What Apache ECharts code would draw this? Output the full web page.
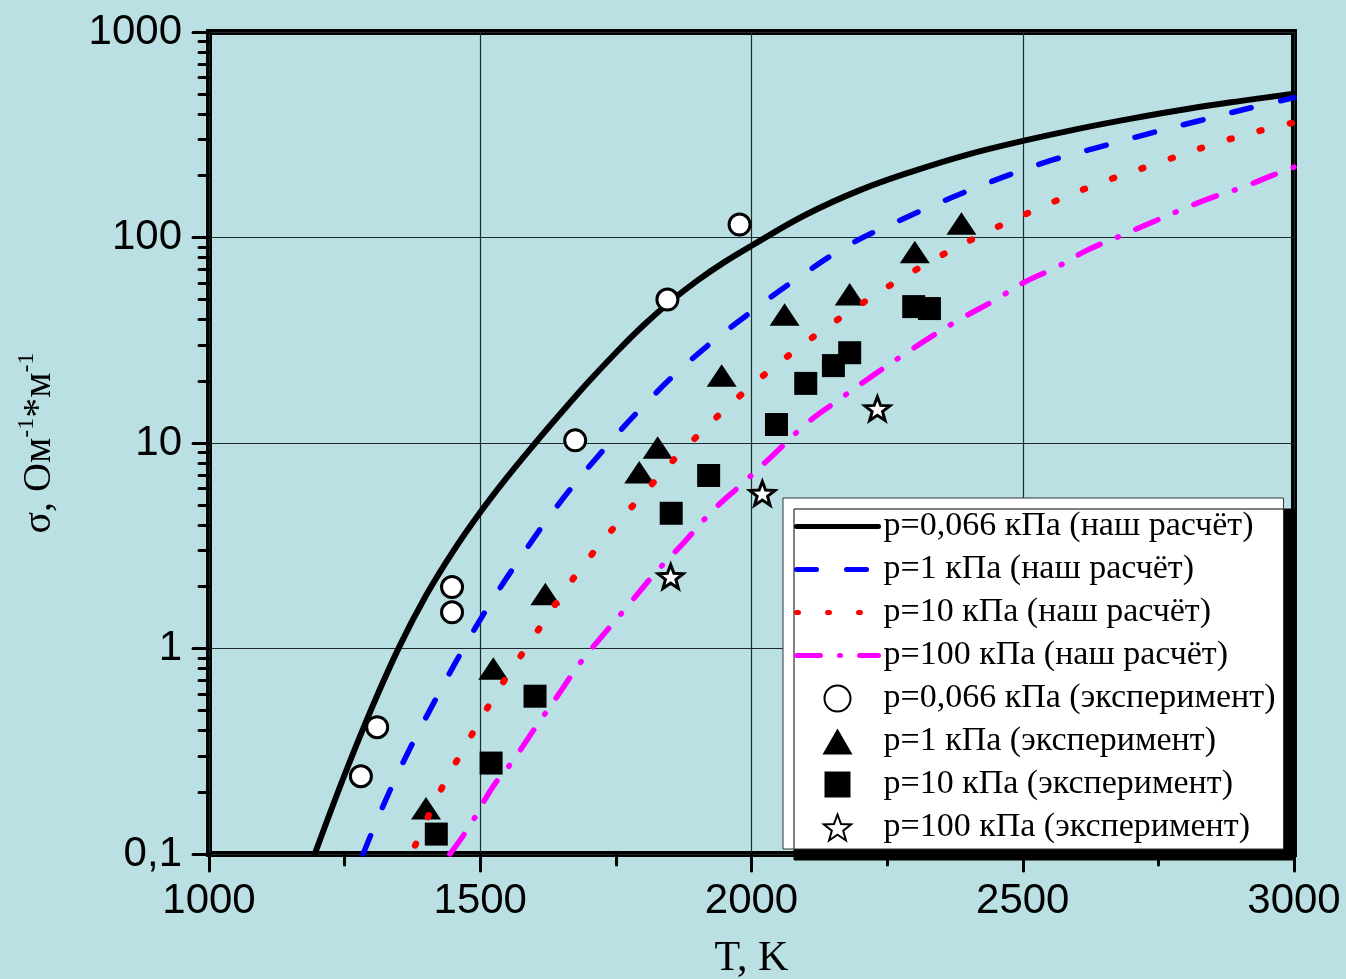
<!DOCTYPE html>
<html>
<head>
<meta charset="utf-8">
<script src="https://cdn.jsdelivr.net/npm/echarts@6/dist/echarts.min.js"></script>
<style>
  html, body { margin: 0; padding: 0; background: #bae0e3; }
  #chart { width: 1346px; height: 979px; }
</style>
</head>
<body>
<div id="chart"></div>
<script>
// Calculated conductivity curves, sigma (Ohm^-1 m^-1) vs temperature T (K)
const calcT_p0066 = [1195, 1250, 1300, 1350, 1400, 1450, 1500, 1550, 1600, 1650, 1700, 1750, 1800, 1850, 1900, 1950, 2000, 2100, 2200, 2300, 2400, 2500, 2600, 2700, 2800, 2900, 3000];
const calcS_p0066 = [0.1, 0.243, 0.513, 1.01, 1.81, 2.97, 4.6, 6.84, 9.89, 14.1, 19.9, 27.5, 37.2, 48.7, 61.7, 75.9, 91.2, 129, 170, 211, 254, 295, 337, 379, 421, 461, 501];

const calcT_p1 = [1284, 1324, 1367, 1413, 1463, 1518, 1577, 1643, 1715, 1798, 1890, 1997, 2091, 2183, 2276, 2368, 2460, 2552, 2644, 2736, 2829, 2913, 3000];
const calcS_p1 = [0.1, 0.179, 0.313, 0.536, 0.938, 1.65, 2.84, 4.98, 8.5, 14.9, 25.6, 43, 65, 93, 122, 156, 195, 237, 277, 322, 372, 423, 479];

const calcT_p10 = [1380, 1411, 1438, 1468, 1500, 1533, 1568, 1605, 1641, 1680, 1724, 1769, 1818, 1868, 1979, 2088, 2198, 2307, 2417, 2525, 2635, 2746, 2854, 2965, 3000];
const calcS_p10 = [0.11, 0.167, 0.232, 0.32, 0.448, 0.627, 0.867, 1.21, 1.68, 2.35, 3.29, 4.55, 6.37, 8.9, 17, 29.2, 46.7, 70.6, 101, 137, 181, 229, 286, 346, 362];

const calcT_p100 = [1444, 1466, 1487, 1523, 1561, 1601, 1641, 1684, 1726, 1776, 1822, 1874, 1929, 1984, 2043, 2104, 2159, 2218, 2276, 2335, 2390, 2447, 2502, 2561, 2617, 2677, 2733, 2788, 2847, 2904, 2959, 3000];
const calcS_p100 = [0.1, 0.12, 0.146, 0.212, 0.286, 0.41, 0.58, 0.849, 1.16, 1.66, 2.32, 3.25, 4.7, 6.37, 8.9, 12.6, 16.1, 20.8, 26.4, 33.4, 40.8, 49.3, 60.4, 71.4, 86.3, 101, 117, 135, 156, 175, 200, 220];

// Measured points
const expT_p0066 = [1280, 1310, 1448, 1448, 1675, 1845, 1978];
const expS_p0066 = [0.239, 0.414, 1.99, 1.50, 10.3, 49.9, 115.6];

const expT_p1 = [1400, 1524, 1620, 1793, 1827, 1945, 2061, 2181, 2301, 2387];
const expS_p1 = [0.167, 0.80, 1.84, 7.2, 9.5, 21.3, 42.2, 53, 85, 117];

const expT_p10 = [1419, 1520, 1601, 1852, 1921, 2046, 2100, 2151, 2181, 2299, 2328];
const expS_p10 = [0.125, 0.277, 0.586, 4.55, 6.95, 12.3, 19.5, 23.8, 27.5, 46.1, 45.1];

const expT_p100 = [1851, 2020, 2232];
const expS_p100 = [2.24, 5.69, 14.7];

// Series names
const seriesNames = [
  'p=0,066 кПа (наш расчёт)',
  'p=1 кПа (наш расчёт)',
  'p=10 кПа (наш расчёт)',
  'p=100 кПа (наш расчёт)',
  'p=0,066 кПа (эксперимент)',
  'p=1 кПа (эксперимент)',
  'p=10 кПа (эксперимент)',
  'p=100 кПа (эксперимент)'
];

// Axis ticks
const xMin = 1000, xMax = 3000, xStep = 500;
const yTickValues = [0.1, 1, 10, 100, 1000];
const yTickLabels = ['0,1', '1', '10', '100', '1000'];
const yMinorTicks = [];
for (let d = 0; d < yTickValues.length - 1; d++) {
  for (let k = 2; k <= 9; k++) yMinorTicks.push(+(yTickValues[d] * k).toPrecision(3));
}

const pairs = (xs, ys) => xs.map((x, i) => [x, ys[i]]);

// Marker shapes (paths keep their aspect ratio in the legend too)
const STAR = 'path://M0,-10 L2.45,-3.4 L9.51,-3.09 L3.95,1.3 L5.88,8.09 L0,4.1 L-5.88,8.09 L-3.95,1.3 L-9.51,-3.09 L-2.45,-3.4 Z';
const TRIANGLE = 'path://M0,-13 L15,13 L-15,13 Z';
const SQUARE = 'path://M0,0 L10,0 L10,10 L0,10 Z';

const serifFont = '"Liberation Serif", "Times New Roman", serif';
const sansFont = '"Liberation Sans", Arial, sans-serif';

const chart = echarts.init(document.getElementById('chart'), null, { renderer: 'canvas' });

const lineBase = { type: 'line', symbol: 'none', smooth: 0.4, animation: false, xAxisIndex: 0, yAxisIndex: 0 };
const scatterBase = { type: 'scatter', animation: false, xAxisIndex: 0, yAxisIndex: 0, symbolKeepAspect: true };

chart.setOption({
  backgroundColor: '#bae0e3',
  animation: false,
  grid: {
    left: 209, right: 52, top: 32, bottom: 125,
    outerBoundsMode: 'none', containLabel: false,
    show: true, borderColor: '#000', borderWidth: 6, backgroundColor: 'transparent'
  },
  legend: {
    orient: 'vertical',
    left: 783, top: 498,
    padding: [7, 8, 0, 11],
    itemWidth: 82, itemHeight: 26, itemGap: 0,
    backgroundColor: '#ffffff',
    borderColor: '#333', borderWidth: 1,
    shadowColor: '#000', shadowBlur: 0, shadowOffsetX: 11, shadowOffsetY: 11,
    lineStyle: { width: 5 },
    textStyle: { fontFamily: serifFont, fontSize: 34, color: '#000', lineHeight: 43 },
    data: seriesNames
  },
  xAxis: {
    type: 'value', min: xMin, max: xMax, interval: xStep,
    name: 'T, K', nameLocation: 'middle', nameGap: 84,
    nameTextStyle: { fontFamily: serifFont, fontSize: 42, color: '#000' },
    axisLine: { show: false },
    axisTick: { show: true, inside: false, length: 17, lineStyle: { color: '#000', width: 3, cap: 'round' } },
    minorTick: { show: true, splitNumber: 2, length: 11, lineStyle: { color: '#000', width: 3, cap: 'round' } },
    axisLabel: { fontFamily: sansFont, fontSize: 42, color: '#000', margin: 26, formatter: v => String(v) },
    splitLine: { show: true, lineStyle: { color: '#1e2b2b', width: 1.2 } }
  },
  yAxis: [
    {
      type: 'log', logBase: 10, min: 0.1, max: 1000,
      name: '{t|σ, Ом}{s|-1}{t|*м}{s|-1}',
      nameLocation: 'middle', nameRotate: 90, nameGap: 150,
      nameTextStyle: {
        rich: {
          t: { fontFamily: serifFont, fontSize: 40, color: '#000', verticalAlign: 'bottom', lineHeight: 44 },
          s: { fontFamily: serifFont, fontSize: 24, color: '#000', verticalAlign: 'top', lineHeight: 44 }
        }
      },
      axisLine: { show: false },
      axisTick: { show: true, inside: false, length: 16, lineStyle: { color: '#000', width: 3, cap: 'round' } },
      axisLabel: {
        fontFamily: sansFont, fontSize: 42, color: '#000', margin: 27,
        formatter: v => {
          const i = yTickValues.findIndex(t => Math.abs(Math.log10(t) - Math.log10(v)) < 1e-6);
          return i >= 0 ? yTickLabels[i] : '';
        }
      },
      splitLine: { show: true, lineStyle: { color: '#1e2b2b', width: 1.2 } }
    },
    {
      // minor ticks at 2..9 within each decade
      type: 'log', logBase: 10, min: 0.1, max: 1000, position: 'left',
      axisLine: { show: false },
      axisTick: { show: true, inside: false, length: 10, customValues: yMinorTicks, lineStyle: { color: '#000', width: 3, cap: 'round' } },
      axisLabel: { show: false },
      splitLine: { show: false }
    }
  ],
  series: [
    Object.assign({}, lineBase, {
      name: seriesNames[0], z: 2,
      data: pairs(calcT_p0066, calcS_p0066),
      lineStyle: { color: '#000', width: 6, type: 'solid', cap: 'round' },
      itemStyle: { color: '#000', opacity: 0 }
    }),
    Object.assign({}, lineBase, {
      name: seriesNames[1], z: 2,
      data: pairs(calcT_p1, calcS_p1),
      lineStyle: { color: '#0000ff', width: 5.5, type: [20, 30], cap: 'round' },
      itemStyle: { color: '#0000ff', opacity: 0 }
    }),
    Object.assign({}, lineBase, {
      name: seriesNames[2], z: 4,
      data: pairs(calcT_p10, calcS_p10),
      lineStyle: { color: '#ff0000', width: 6.5, type: [2, 29], cap: 'round' },
      itemStyle: { color: '#ff0000', opacity: 0 }
    }),
    Object.assign({}, lineBase, {
      name: seriesNames[3], z: 4,
      data: pairs(calcT_p100, calcS_p100),
      lineStyle: { color: '#ff00ff', width: 5.5, type: [24, 19, 1, 19], cap: 'round' },
      itemStyle: { color: '#ff00ff', opacity: 0 }
    }),
    Object.assign({}, scatterBase, {
      name: seriesNames[4], z: 3,
      data: pairs(expT_p0066, expS_p0066),
      symbol: 'circle', symbolSize: 21,
      itemStyle: { color: '#ffffff', borderColor: '#000', borderWidth: 3, opacity: 1 }
    }),
    Object.assign({}, scatterBase, {
      name: seriesNames[5], z: 3,
      data: pairs(expT_p1, expS_p1),
      symbol: TRIANGLE, symbolSize: [30, 26],
      itemStyle: { color: '#000', opacity: 1 }
    }),
    Object.assign({}, scatterBase, {
      name: seriesNames[6], z: 5,
      data: pairs(expT_p10, expS_p10),
      symbol: SQUARE, symbolSize: 23,
      itemStyle: { color: '#000', opacity: 1 }
    }),
    Object.assign({}, scatterBase, {
      name: seriesNames[7], z: 5,
      data: pairs(expT_p100, expS_p100),
      symbol: STAR, symbolSize: 25,
      itemStyle: { color: '#ffffff', borderColor: '#000', borderWidth: 3, opacity: 1 }
    })
  ]
});
</script>
</body>
</html>
